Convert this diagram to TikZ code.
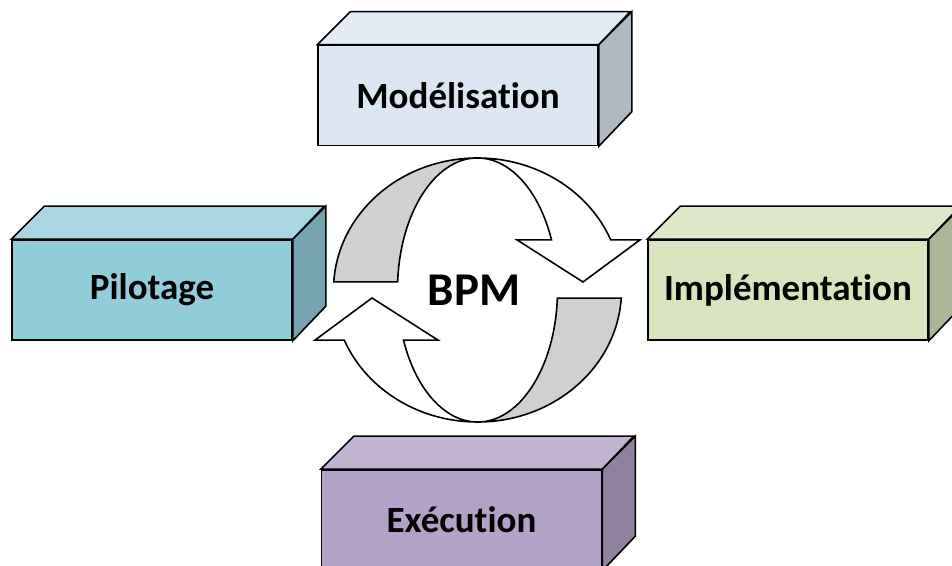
\documentclass[tikz,border=0pt]{standalone}
\usepackage{fontspec}
\setmainfont{Carlito}[Ligatures=NoCommon]
\definecolor{modcol}{HTML}{DCE6F2}
\definecolor{pilcol}{HTML}{92CDDC}
\definecolor{impcol}{HTML}{D7E4BD}
\definecolor{execol}{HTML}{B3A2C7}
\definecolor{bandgray}{HTML}{D0D0D0}
\tikzset{
    block/.style={draw, line width=0.8pt, minimum width=140pt, minimum height=50pt, inner sep=0pt,
        font=\bfseries\fontsize{18.5}{22}\selectfont},
    ribbon/.style={draw, line width=0.8pt, fill=white},
    ribbonback/.style={draw, line width=0.8pt, fill=bandgray}
}
\begin{document}
\begin{tikzpicture}[x=0.5pt, y=0.5pt]
    \useasboundingbox (0,0) rectangle (952,566);
    % the four phases
    \node[block, fill=modcol] (mod) at (458,470.5) {Modélisation};
    \node[block, fill=pilcol] (pil) at (152,276) {Pilotage};
    \node[block, fill=impcol] (imp) at (788,276) {Implémentation};
    \node[block, fill=execol] (exe) at (461.5,46) {Exécution};
    \foreach \n/\c in {mod/modcol, pil/pilcol, imp/impcol, exe/execol} {
        \draw[line width=0.8pt, fill=\c!80!white] (\n.north west) -- ++(33,33) -- ++(280,0) -- (\n.north east) -- cycle;
        \draw[line width=0.8pt, fill=\c!80!black] (\n.north east) -- ++(33,33) -- ++(0,-100) -- (\n.south east) -- cycle;
    }
    % circular arrows
    \coordinate (c) at (477.5,276);
    \foreach \r in {0,180} {
        \begin{scope}[shift={(c)}, rotate=\r]
            \draw[ribbonback] (0,132) arc[start angle=90, end angle=176.5, x radius=144, y radius=132]
                -- (-79.85,8.14) arc[start angle=176.5, end angle=90, x radius=80, y radius=132] -- cycle;
            \draw[ribbon] (0,132) arc[start angle=90, end angle=22.3, x radius=144, y radius=132]
                -- (162.5,50.1) -- (105.5,8) -- (39.5,50.1) -- (74,50.1)
                arc[start angle=22.3, end angle=90, x radius=80, y radius=132] -- cycle;
        \end{scope}
    }
    \node[font=\bfseries\fontsize{23.5}{28}\selectfont] (bpm) at (474,276) {BPM};
\end{tikzpicture}
\end{document}
